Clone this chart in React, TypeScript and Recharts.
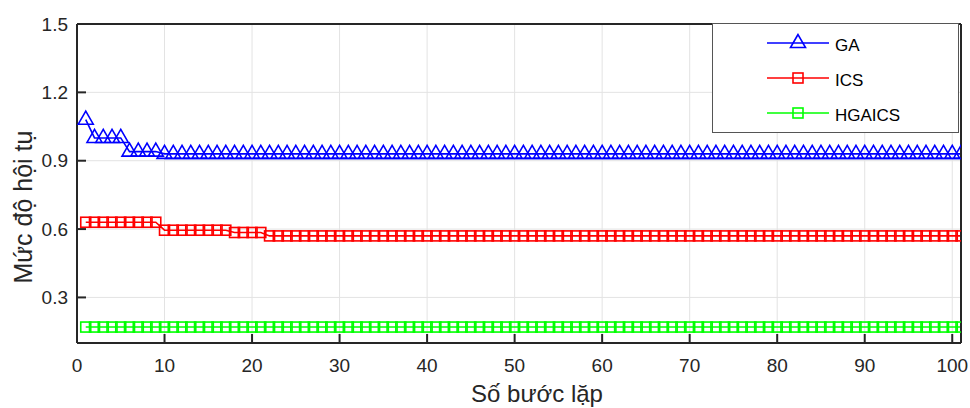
import React from 'react';
import { LineChart, Line, XAxis, YAxis, CartesianGrid, Legend } from 'recharts';

const iterations = [
  1, 2, 3, 4, 5, 6, 7, 8, 9, 10,
  11, 12, 13, 14, 15, 16, 17, 18, 19, 20,
  21, 22, 23, 24, 25, 26, 27, 28, 29, 30,
  31, 32, 33, 34, 35, 36, 37, 38, 39, 40,
  41, 42, 43, 44, 45, 46, 47, 48, 49, 50,
  51, 52, 53, 54, 55, 56, 57, 58, 59, 60,
  61, 62, 63, 64, 65, 66, 67, 68, 69, 70,
  71, 72, 73, 74, 75, 76, 77, 78, 79, 80,
  81, 82, 83, 84, 85, 86, 87, 88, 89, 90,
  91, 92, 93, 94, 95, 96, 97, 98, 99, 100,
  101,
];

const gaValues = [
  1.08, 1.0, 1.0, 1.0, 1.0, 0.94, 0.94, 0.94, 0.94, 0.93,
  0.93, 0.93, 0.93, 0.93, 0.93, 0.93, 0.93, 0.93, 0.93, 0.93,
  0.93, 0.93, 0.93, 0.93, 0.93, 0.93, 0.93, 0.93, 0.93, 0.93,
  0.93, 0.93, 0.93, 0.93, 0.93, 0.93, 0.93, 0.93, 0.93, 0.93,
  0.93, 0.93, 0.93, 0.93, 0.93, 0.93, 0.93, 0.93, 0.93, 0.93,
  0.93, 0.93, 0.93, 0.93, 0.93, 0.93, 0.93, 0.93, 0.93, 0.93,
  0.93, 0.93, 0.93, 0.93, 0.93, 0.93, 0.93, 0.93, 0.93, 0.93,
  0.93, 0.93, 0.93, 0.93, 0.93, 0.93, 0.93, 0.93, 0.93, 0.93,
  0.93, 0.93, 0.93, 0.93, 0.93, 0.93, 0.93, 0.93, 0.93, 0.93,
  0.93, 0.93, 0.93, 0.93, 0.93, 0.93, 0.93, 0.93, 0.93, 0.93,
  0.93,
];

const icsValues = [
  0.63, 0.63, 0.63, 0.63, 0.63, 0.63, 0.63, 0.63, 0.63, 0.595,
  0.595, 0.595, 0.595, 0.595, 0.595, 0.595, 0.595, 0.585, 0.585, 0.585,
  0.585, 0.57, 0.57, 0.57, 0.57, 0.57, 0.57, 0.57, 0.57, 0.57,
  0.57, 0.57, 0.57, 0.57, 0.57, 0.57, 0.57, 0.57, 0.57, 0.57,
  0.57, 0.57, 0.57, 0.57, 0.57, 0.57, 0.57, 0.57, 0.57, 0.57,
  0.57, 0.57, 0.57, 0.57, 0.57, 0.57, 0.57, 0.57, 0.57, 0.57,
  0.57, 0.57, 0.57, 0.57, 0.57, 0.57, 0.57, 0.57, 0.57, 0.57,
  0.57, 0.57, 0.57, 0.57, 0.57, 0.57, 0.57, 0.57, 0.57, 0.57,
  0.57, 0.57, 0.57, 0.57, 0.57, 0.57, 0.57, 0.57, 0.57, 0.57,
  0.57, 0.57, 0.57, 0.57, 0.57, 0.57, 0.57, 0.57, 0.57, 0.57,
  0.57,
];

const hgaicsValues = [
  0.17, 0.17, 0.17, 0.17, 0.17, 0.17, 0.17, 0.17, 0.17, 0.17,
  0.17, 0.17, 0.17, 0.17, 0.17, 0.17, 0.17, 0.17, 0.17, 0.17,
  0.17, 0.17, 0.17, 0.17, 0.17, 0.17, 0.17, 0.17, 0.17, 0.17,
  0.17, 0.17, 0.17, 0.17, 0.17, 0.17, 0.17, 0.17, 0.17, 0.17,
  0.17, 0.17, 0.17, 0.17, 0.17, 0.17, 0.17, 0.17, 0.17, 0.17,
  0.17, 0.17, 0.17, 0.17, 0.17, 0.17, 0.17, 0.17, 0.17, 0.17,
  0.17, 0.17, 0.17, 0.17, 0.17, 0.17, 0.17, 0.17, 0.17, 0.17,
  0.17, 0.17, 0.17, 0.17, 0.17, 0.17, 0.17, 0.17, 0.17, 0.17,
  0.17, 0.17, 0.17, 0.17, 0.17, 0.17, 0.17, 0.17, 0.17, 0.17,
  0.17, 0.17, 0.17, 0.17, 0.17, 0.17, 0.17, 0.17, 0.17, 0.17,
  0.17,
];

const xTicks = [0, 10, 20, 30, 40, 50, 60, 70, 80, 90, 100];
const yTicks = [0.3, 0.6, 0.9, 1.2, 1.5];
const seriesNames = ['GA', 'ICS', 'HGAICS'];
const seriesColors: Record<string, string> = { GA: '#0000ff', ICS: '#ff0000', HGAICS: '#00ff00' };
const seriesMarkers: Record<string, string> = { GA: 'triangle', ICS: 'square', HGAICS: 'square' };
const xLabel = 'Số bước lặp';
const yLabel = 'Mức độ hội tụ';

const data = iterations.map((it, i) => ({
  it,
  GA: gaValues[i],
  ICS: icsValues[i],
  HGAICS: hgaicsValues[i],
}));

const FONT = '"Liberation Sans", Arial, Helvetica, sans-serif';
const AXIS = '#262626';

function Marker({ cx, cy, color, kind }: { cx: number; cy: number; color: string; kind: string }) {
  if (cx == null || cy == null || isNaN(cx) || isNaN(cy)) return null;
  if (kind === 'triangle') {
    return (
      <polygon
        points={`${cx},${cy - 8.5} ${cx - 7.5},${cy + 4.5} ${cx + 7.5},${cy + 4.5}`}
        fill="none"
        stroke={color}
        strokeWidth={1.6}
      />
    );
  }
  return <rect x={cx - 5} y={cy - 5} width={10} height={10} fill="none" stroke={color} strokeWidth={1.6} />;
}

const makeDot = (name: string) => (props: any) => (
  <Marker key={`${name}-${props.index}`} cx={props.cx} cy={props.cy} color={seriesColors[name]} kind={seriesMarkers[name]} />
);

const renderLegend = (props: any) => {
  const payload = [...(props.payload || [])].sort(
    (a: any, b: any) => seriesNames.indexOf(a.dataKey) - seriesNames.indexOf(b.dataKey)
  );
  return (
    <div
      style={{
        width: 247,
        height: 110,
        boxSizing: 'border-box',
        border: '1px solid #555555',
        background: '#ffffff',
      }}
    >
      <svg width={245} height={108} style={{ display: 'block' }}>
        {payload.map((p: any, i: number) => {
          const y = 19 + i * 35;
          const name = p.dataKey as string;
          const color = seriesColors[name];
          return (
            <g key={name}>
              <line x1={54} x2={116} y1={y} y2={y} stroke={color} strokeWidth={1.6} />
              <Marker cx={85} cy={y} color={color} kind={seriesMarkers[name]} />
              <text x={122} y={y + 7.5} fontSize={17} fontFamily={FONT} fill="#000000">
                {p.value}
              </text>
            </g>
          );
        })}
      </svg>
    </div>
  );
};

const YLabel = () => (
  <text
    transform="translate(32, 207) rotate(-90)"
    textAnchor="middle"
    fontSize={25}
    fontFamily={FONT}
    fill={AXIS}
  >
    {yLabel}
  </text>
);

const XLabel = () => (
  <text x={537} y={402} textAnchor="middle" fontSize={24} fontFamily={FONT} fill={AXIS}>
    {xLabel}
  </text>
);

export default function App() {
  return (
    <div style={{ position: 'absolute', left: 0, top: 0, width: 970, height: 408, background: '#ffffff' }}>
      <LineChart width={970} height={408} data={data} margin={{ top: 23, right: 8, bottom: 35, left: 17 }}>
        <CartesianGrid stroke="#e3e3e3" strokeWidth={1} />
        <XAxis
          dataKey="it"
          type="number"
          domain={[0, 101]}
          ticks={xTicks}
          height={30}
          tickSize={-9}
          tickMargin={25}
          interval={0}
          axisLine={{ stroke: AXIS, strokeWidth: 2 }}
          tickLine={{ stroke: AXIS, strokeWidth: 2 }}
          tick={{ fill: AXIS, fontSize: 19, fontFamily: FONT }}
          label={<XLabel />}
          allowDataOverflow
        />
        <XAxis
          xAxisId="top"
          orientation="top"
          type="number"
          domain={[0, 101]}
          ticks={xTicks}
          height={1}
          tickSize={-9}
          interval={0}
          axisLine={{ stroke: AXIS, strokeWidth: 2 }}
          tickLine={{ stroke: AXIS, strokeWidth: 2 }}
          tick={false}
          allowDataOverflow
        />
        <YAxis
          type="number"
          domain={[0.1, 1.5]}
          ticks={yTicks}
          width={60}
          tickSize={-9}
          tickMargin={18}
          interval={0}
          axisLine={{ stroke: AXIS, strokeWidth: 2 }}
          tickLine={{ stroke: AXIS, strokeWidth: 2 }}
          tick={{ fill: AXIS, fontSize: 19, fontFamily: FONT }}
          label={<YLabel />}
          allowDataOverflow
        />
        <YAxis
          yAxisId="right"
          orientation="right"
          type="number"
          domain={[0.1, 1.5]}
          ticks={yTicks}
          width={1}
          tickSize={-9}
          interval={0}
          axisLine={{ stroke: AXIS, strokeWidth: 2 }}
          tickLine={{ stroke: AXIS, strokeWidth: 2 }}
          tick={false}
          allowDataOverflow
        />
        <Legend
          layout="horizontal"
          verticalAlign="middle"
          align="center"
          content={renderLegend}
          wrapperStyle={{ position: 'absolute', left: 712, top: 23, width: 247, height: 110 }}
        />
        {seriesNames.map((name) => (
          <Line
            key={name}
            dataKey={name}
            name={name}
            type="linear"
            stroke={seriesColors[name]}
            strokeWidth={1.6}
            dot={makeDot(name)}
            activeDot={false}
            isAnimationActive={false}
          />
        ))}
      </LineChart>
    </div>
  );
}
